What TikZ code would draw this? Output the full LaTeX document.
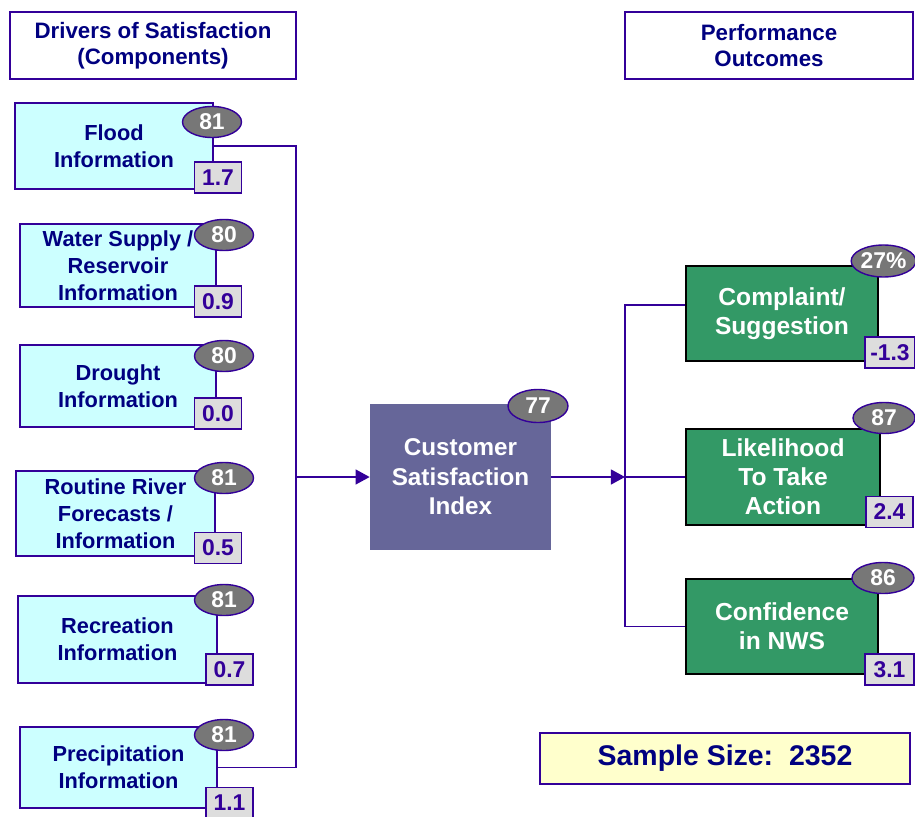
\documentclass[tikz,border=0pt]{standalone}
\usepackage{fontspec}
\setmainfont{Liberation Sans}
\usetikzlibrary{positioning}
\usetikzlibrary{shapes.geometric}
\usetikzlibrary{arrows.meta}
\definecolor{navytext}{HTML}{000080}
\definecolor{linecol}{HTML}{330099}
\definecolor{drvfill}{HTML}{CCFFFF}
\definecolor{ovalgray}{HTML}{777777}
\definecolor{valfill}{HTML}{DDDDDD}
\definecolor{csifill}{HTML}{666699}
\definecolor{outfill}{HTML}{339966}
\definecolor{samplefill}{HTML}{FFFFCC}
\newcommand{\pxu}{0.02cm}
\tikzset{
 head/.style={draw=linecol,line width=0.8pt,fill=white,text=navytext,align=center,inner sep=0pt,font=\fontsize{12.7}{14.8}\selectfont\bfseries},
 drv/.style={draw=linecol,line width=0.8pt,fill=drvfill,text=navytext,align=center,inner sep=0pt,font=\fontsize{12.4}{15.3}\selectfont\bfseries},
 outc/.style={draw=black,line width=0.8pt,fill=outfill,text=white,align=center,inner sep=0pt,font=\fontsize{14}{16.5}\selectfont\bfseries},
 score/.style={ellipse,draw=linecol,line width=0.8pt,fill=ovalgray,text=white,inner sep=0pt,minimum width=59*\pxu,minimum height=31*\pxu,font=\fontsize{13}{14}\selectfont\bfseries},
 impact/.style={draw=linecol,line width=0.8pt,fill=valfill,text=linecol,inner sep=0pt,minimum width=47*\pxu,minimum height=31*\pxu,font=\fontsize{13}{14}\selectfont\bfseries},
 link/.style={draw=linecol,line width=0.85pt},
}
\begin{document}
\begin{tikzpicture}[x=0.02cm,y=-0.02cm]
 \useasboundingbox (0,0) rectangle (915,817);
 \node[head,minimum width=286*\pxu,minimum height=67*\pxu] (hdrv) at (153,45.5) {Drivers of Satisfaction\\(Components)};
 \node[head,minimum width=288*\pxu,minimum height=67*\pxu] (hout) at (769,45.5) {Performance\\Outcomes};

 \node[drv,minimum width=198*\pxu,minimum height=86*\pxu] (flood) at (114,146) {Flood\\Information};
 \node[drv,minimum width=196*\pxu,minimum height=83*\pxu] (water) at (118,265.5) {Water Supply /\\Reservoir\\Information};
 \node[drv,minimum width=196*\pxu,minimum height=82*\pxu] (drought) at (118,386) {Drought\\Information};
 \node[drv,minimum width=199*\pxu,minimum height=85*\pxu] (river) at (115.5,513.5) {Routine River\\Forecasts /\\Information};
 \node[drv,minimum width=199*\pxu,minimum height=87*\pxu] (recr) at (117.5,639.5) {Recreation\\Information};
 \node[drv,minimum width=197*\pxu,minimum height=81*\pxu] (precip) at (118.5,767.5) {Precipitation\\Information};

 \node[score] (sflood) at (212,122) {81};
 \node[score] (swater) at (224,235) {80};
 \node[score] (sdrought) at (224,356) {80};
 \node[score] (sriver) at (224,478) {81};
 \node[score] (srecr) at (224,600) {81};
 \node[score] (sprecip) at (224,735) {81};

 \node[impact] (iflood) at (218,177.5) {1.7};
 \node[impact] (iwater) at (218,301.5) {0.9};
 \node[impact] (idrought) at (218,413.5) {0.0};
 \node[impact] (iriver) at (218,548) {0.5};
 \node[impact] (irecr) at (229.5,669.5) {0.7};
 \node[impact] (iprecip) at (229.5,803) {1.1};

 \node[fill=csifill,text=white,align=center,inner sep=0pt,minimum width=181*\pxu,minimum height=146*\pxu,font=\fontsize{13.8}{16.8}\selectfont\bfseries] (csi) at (460.5,477) {Customer\\Satisfaction\\Index};
 \node[score,minimum width=60*\pxu,minimum height=33*\pxu] (scsi) at (538,406) {77};

 \node[outc,minimum width=192*\pxu,minimum height=95*\pxu] (compl) at (782,313.5) {Complaint/\\Suggestion};
 \node[outc,minimum width=194*\pxu,minimum height=96*\pxu] (likely) at (783,477) {Likelihood\\To Take\\Action};
 \node[outc,minimum width=192*\pxu,minimum height=95*\pxu] (confid) at (782,626.5) {Confidence\\in NWS};

 \node[score,minimum width=63*\pxu,minimum height=32*\pxu] (scompl) at (883.5,261) {27\%};
 \node[score,minimum width=62*\pxu] (slikely) at (884,418) {87};
 \node[score,minimum width=62*\pxu] (sconfid) at (883,578) {86};

 \node[impact,minimum width=50*\pxu] (icompl) at (890,352.5) {-1.3};
 \node[impact] (ilikely) at (889.5,512) {2.4};
 \node[impact,minimum width=49*\pxu] (iconfid) at (889.5,669.5) {3.1};

 \node[draw=linecol,line width=0.8pt,fill=samplefill,text=navytext,inner sep=0pt,minimum width=370*\pxu,minimum height=51*\pxu,font=\fontsize{16.2}{19}\selectfont\bfseries] (sample) at (725,758.5) {Sample Size:\ \ 2352};

 \coordinate (lbus) at (296,477);
 \coordinate (rbus) at (625,477);
 \draw[link] (flood.east) -| (lbus) |- (precip.east);
 \draw[link,-{Triangle[length=8pt,width=8.5pt]}] (lbus) -- (csi.west);
 \draw[link,-{Triangle[length=8pt,width=8.5pt]}] (csi.east) -- (rbus);
 \draw[link] ([yshift=0.17cm]compl.west) -| (rbus) |- (confid.west);
 \draw[link] (rbus) -- (likely.west);
\end{tikzpicture}
\end{document}
